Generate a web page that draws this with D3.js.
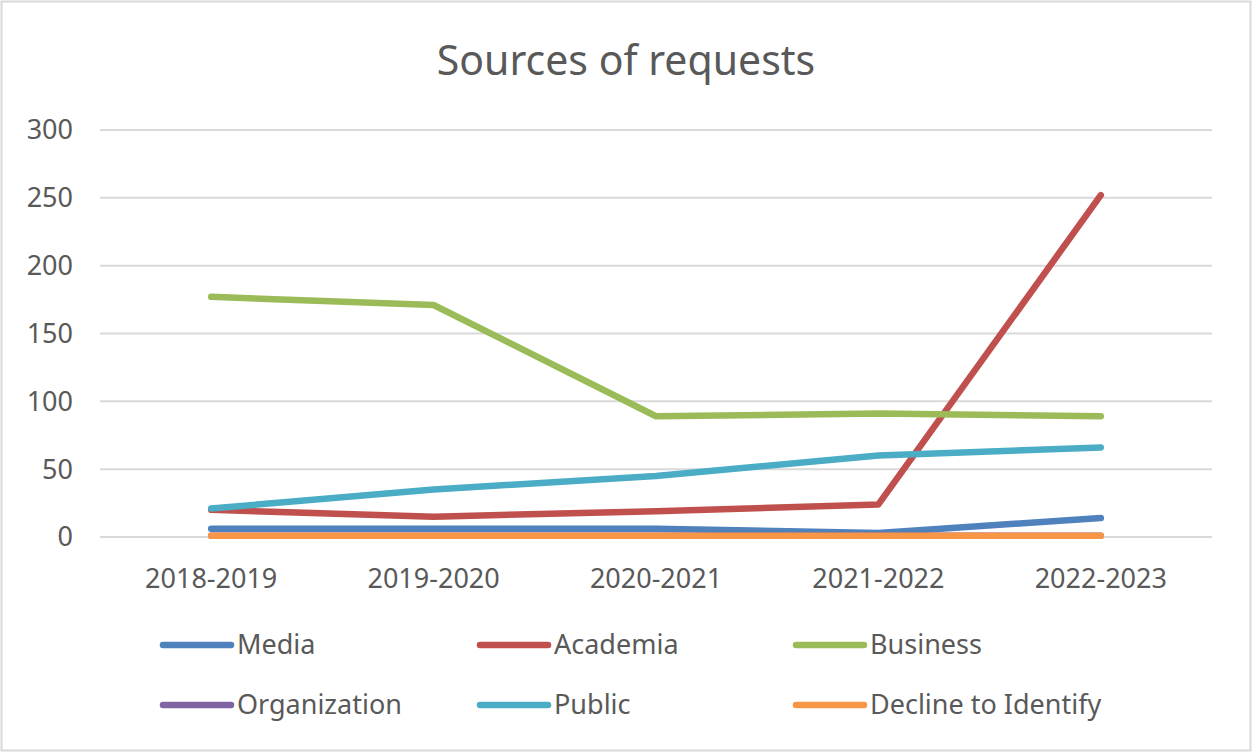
<!DOCTYPE html>
<html>
<head>
<meta charset="utf-8">
<script src="https://cdn.jsdelivr.net/npm/d3@7"></script>
<style>
	body { margin: 0; background: #fff; }
	text { font-family: "Noto Sans", "Open Sans", sans-serif; fill: #595959; }
</style>
</head>
<body>
<svg id="chart" width="1252" height="752"></svg>
<script>
const YEARS = ['2018-2019', '2019-2020', '2020-2021', '2021-2022', '2022-2023'];
const SERIES = ['Media', 'Academia', 'Business', 'Organization', 'Public', 'Decline to Identify'];
const COLORS = ['#4F81BD', '#C0504D', '#9BBB59', '#8064A2', '#4BACC6', '#F79646'];

const MEDIA = [6, 6, 6, 3, 14];
const ACADEMIA = [20, 15, 19, 24, 252];
const BUSINESS = [177, 171, 89, 91, 89];
const ORGANIZATION = [1, 1, 1, 1, 1];
const PUBLIC = [21, 35, 45, 60, 66];
const DECLINE = [1, 1, 1, 1, 1];

const Y_TICKS = [0, 50, 100, 150, 200, 250, 300];

const values = [MEDIA, ACADEMIA, BUSINESS, ORGANIZATION, PUBLIC, DECLINE];

const svg = d3.select('#chart');

// outer frame
svg.append('rect')
	.attr('x', 1.5).attr('y', 1.5)
	.attr('width', 1249).attr('height', 749)
	.attr('fill', '#fff').attr('stroke', '#d9d9d9').attr('stroke-width', 2);

svg.append('text')
	.attr('x', 626).attr('y', 75)
	.attr('text-anchor', 'middle')
	.attr('font-size', 41)
	.text('Sources of requests');

const x = d3.scaleBand().domain(YEARS).range([100, 1212]);
const y = d3.scaleLinear().domain([0, 300]).range([537, 130]);

// gridlines
svg.selectAll('.grid')
	.data(Y_TICKS)
	.enter().append('line')
	.attr('x1', 100).attr('x2', 1212)
	.attr('y1', d => y(d)).attr('y2', d => y(d))
	.attr('stroke', '#d9d9d9').attr('stroke-width', 2);

// y labels
svg.selectAll('.ylab')
	.data(Y_TICKS)
	.enter().append('text')
	.attr('x', 73)
	.attr('y', d => y(d))
	.attr('dy', '0.35em')
	.attr('text-anchor', 'end')
	.attr('font-size', 27)
	.text(d => d);

// x labels
svg.selectAll('.xlab')
	.data(YEARS)
	.enter().append('text')
	.attr('x', d => x(d) + x.bandwidth() / 2)
	.attr('y', 579)
	.attr('dy', '0.35em')
	.attr('text-anchor', 'middle')
	.attr('font-size', 27)
	.text(d => d);

const line = d3.line()
	.x((d, i) => x(YEARS[i]) + x.bandwidth() / 2)
	.y(d => y(d));

svg.selectAll('.series')
	.data(values)
	.enter().append('path')
	.attr('d', d => line(d))
	.attr('fill', 'none')
	.attr('stroke', (d, i) => COLORS[i])
	.attr('stroke-width', 6.5)
	.attr('stroke-linecap', 'round')
	.attr('stroke-linejoin', 'round');

// legend
const legX = [163, 480, 796];
const legY = [645, 705];
const leg = svg.selectAll('.leg')
	.data(SERIES)
	.enter().append('g')
	.attr('transform', (d, i) => `translate(${legX[i % 3]},${legY[Math.floor(i / 3)]})`);
leg.append('line')
	.attr('x1', 0).attr('x2', 68)
	.attr('stroke', (d, i) => COLORS[i])
	.attr('stroke-width', 6.5)
	.attr('stroke-linecap', 'round');
leg.append('text')
	.attr('x', 74)
	.attr('dy', '0.35em')
	.attr('font-size', 27)
	.text(d => d);
</script>
</body>
</html>
